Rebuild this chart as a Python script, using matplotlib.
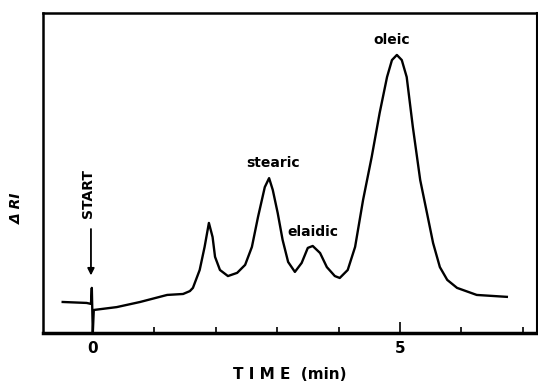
import numpy as np
import matplotlib
matplotlib.use("Agg")
import matplotlib.pyplot as plt

# chromatogram trace (time in min, detector response in arbitrary units)
time_min = [-0.49, -0.10, -0.03, -0.016, 0.0, 0.016, 0.39, 0.77, 1.21, 1.47,
            1.58, 1.63, 1.74, 1.82, 1.89, 1.95, 1.99, 2.07, 2.20, 2.35,
            2.48, 2.59, 2.69, 2.80, 2.87, 2.93, 3.01, 3.09, 3.18, 3.29,
            3.40, 3.50, 3.58, 3.70, 3.81, 3.94, 4.02, 4.15, 4.27, 4.40,
            4.54, 4.67, 4.79, 4.87, 4.95, 5.03, 5.11, 5.21, 5.33, 5.44,
            5.54, 5.65, 5.77, 5.93, 6.25, 6.74]
signal = [9.7, 9.4, 9.1, 14.1, 0.0, 7.2, 8.1, 9.7, 11.9, 12.2,
          13.1, 14.1, 19.7, 26.9, 34.4, 30.0, 23.8, 19.7, 17.8, 18.8,
          21.3, 26.9, 36.3, 45.6, 48.4, 44.7, 37.5, 29.1, 22.2, 19.1,
          21.9, 26.6, 27.2, 25.0, 20.6, 17.8, 17.2, 19.7, 26.9, 41.6,
          55.0, 68.8, 80.0, 85.3, 86.9, 85.3, 80.0, 64.4, 47.8, 37.5,
          28.1, 20.6, 16.6, 14.1, 11.9, 11.3]

peak_names = ["stearic", "elaidic", "oleic"]
peak_label_x = [2.94, 3.58, 4.87]
peak_label_y = [53.0, 31.5, 91.5]

fig = plt.figure(figsize=(5.38, 3.83), dpi=100)
ax = fig.add_axes([0.080, 0.1305, 0.918, 0.8355])

ax.plot(time_min, signal, color="black", lw=1.7, solid_joinstyle="round")

ax.set_xlim(-0.81, 7.23)
ax.set_ylim(0, 100)

ax.set_xticks([0, 5])
ax.set_xticklabels(["0", "5"], fontsize=11, fontweight="bold")
ax.set_xticks([1, 2, 3, 4, 6, 7], minor=True)
ax.tick_params(axis="x", which="major", direction="in", length=8, width=1.2, pad=6)
ax.tick_params(axis="x", which="minor", direction="in", length=4, width=1.2)
ax.set_yticks([])

ax.spines["bottom"].set_linewidth(2.5)
ax.spines["left"].set_linewidth(1.8)
ax.spines["top"].set_linewidth(1.8)
ax.spines["right"].set_linewidth(1.5)

for name, x, y in zip(peak_names, peak_label_x, peak_label_y):
    ax.text(x, y, name, ha="center", va="center", fontsize=10, fontweight="bold")

# START marker
ax.text(-0.07, 43.5, "START", rotation=90, ha="center", va="center",
        fontsize=10, fontweight="bold")
ax.annotate("", xy=(-0.03, 18.0), xytext=(-0.03, 32.5),
            arrowprops=dict(arrowstyle="-|>", color="black", lw=1.3,
                            mutation_scale=10, shrinkA=0, shrinkB=0))

ax.set_xlabel("T I M E  (min)", fontsize=11, fontweight="bold", labelpad=8)
fig.text(0.032, 0.457, "Δ RI", rotation=90, ha="center", va="center",
         fontsize=10, fontweight="bold", fontstyle="italic")

fig.savefig("out.png", dpi=100)
